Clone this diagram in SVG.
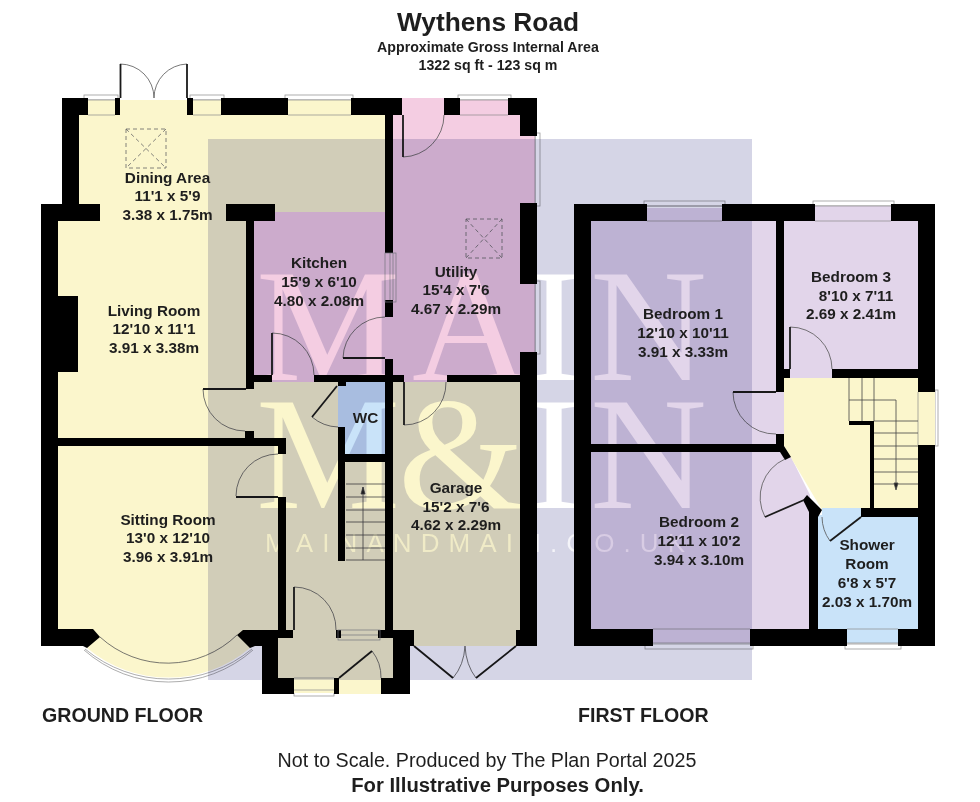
<svg xmlns="http://www.w3.org/2000/svg" width="980" height="802" viewBox="0 0 980 802">
<style>
text{font-family:"Liberation Sans",Arial,sans-serif;fill:#1e1e1e}
.l{font-size:15.300px;font-weight:bold;text-anchor:middle}
.h{font-weight:bold;text-anchor:middle}
.y{fill:#fbf6cc}.p{fill:#f4cde2}.v{fill:#e2d5ea}.b{fill:#c9e3f9}
.w{fill:#000}
.t{fill:none;stroke:#555;stroke-width:.8}
.d{fill:none;stroke:#1a1a1a;stroke-width:1.800}
.s{fill:#fff;stroke:#9a9a9a;stroke-width:.8}
.g{fill:none;stroke:#8a8a8a;stroke-width:.7}
.r{fill:none;stroke:#666;stroke-width:.8;stroke-dasharray:4 3}
.k{fill:none;stroke:#444;stroke-width:.8}
.m{font-family:"Liberation Serif",serif;font-size:162px;fill:#000}
</style>
<defs>
<mask id="wm" maskUnits="userSpaceOnUse" x="0" y="0" width="980" height="802">
<rect width="980" height="802" fill="#fff"/>
<text class="m" x="256 412 527 590" y="380">MAIN</text>
<text class="m" x="256 398 527 590" y="508">M&amp;IN</text>
<text x="265" y="552" font-size="26" textLength="420" lengthAdjust="spacing" style="fill:#000" fill-opacity=".75">MAINANDMAIN.CO.UK</text>
</mask>
</defs>
<rect width="980" height="802" fill="#fff"/>
<g id="sills" class="s">
<rect x="84" y="95" width="34" height="5"/><rect x="190" y="95" width="34" height="5"/><rect x="285" y="95" width="68" height="5"/><rect x="458" y="95" width="53" height="5"/>
<rect x="535" y="133" width="5" height="73"/><rect x="535" y="281" width="5" height="73"/>
<rect x="294" y="690" width="40" height="6"/>
<rect x="644" y="201" width="81" height="5"/><rect x="813" y="201" width="81" height="5"/>
<rect x="935" y="390" width="3" height="56"/><rect x="645" y="644" width="108" height="5"/><rect x="845" y="644" width="56" height="5"/>
</g>
<g id="ground-fills">
<rect class="y" x="79" y="100" width="310" height="125"/>
<rect class="y" x="58" y="221" width="200" height="420"/>
<rect class="y" x="254" y="382" width="134" height="258"/>
<rect class="y" x="278" y="635" width="115" height="45"/>
<rect class="y" x="294" y="678" width="40" height="15"/>
<rect class="y" x="339" y="678" width="42" height="16"/>
<path class="y" d="M87 640V648A127 127 0 0 0 250 648V640Z"/>
<rect class="p" x="254" y="212" width="135" height="170"/>
<rect class="p" x="389" y="100" width="131" height="282"/>
<rect class="p" x="402" y="98" width="42" height="20"/>
<rect class="p" x="460" y="100" width="48" height="18"/>
<rect class="p" x="520" y="136" width="15" height="216"/>
<rect class="y" x="393" y="382" width="127" height="250"/>
<rect class="y" x="414" y="630" width="102" height="16"/>
<rect class="b" x="338" y="382" width="47" height="74"/>
</g>
<g id="first-fills">
<rect class="v" x="591" y="208" width="193" height="238"/>
<rect class="v" x="784" y="206" width="134" height="164"/>
<rect class="v" x="790" y="365" width="42" height="15"/>
<path class="v" d="M591 448H780L791 457L810 495L812 631H591Z"/>
<rect class="v" x="653" y="625" width="97" height="18"/>
<rect class="v" x="776" y="392" width="10" height="42"/>
<path class="y" d="M784 378H918V510H822L784 446Z"/>
<rect class="y" x="918" y="392" width="17" height="53"/>
<rect class="b" x="818" y="515" width="100" height="116"/>
<rect class="b" x="822" y="508" width="39" height="10"/>
<rect class="b" x="847" y="625" width="51" height="18"/>
</g>
<g id="walls-ground" class="w">
<path d="M62 98H88V115H79V204H100V221H58V629H93L100 637L87 648L83 646H41V204H62Z"/>
<rect x="115" y="98" width="5" height="17"/>
<rect x="187" y="98" width="6" height="17"/>
<rect x="221" y="98" width="67" height="17"/>
<rect x="351" y="98" width="51" height="17"/>
<rect x="444" y="98" width="16" height="17"/>
<path d="M508 98H537V136H520V115H508Z"/>
<rect x="520" y="203" width="17" height="81"/>
<rect x="520" y="352" width="17" height="294"/>
<rect x="516" y="630" width="21" height="16"/>
<rect x="385" y="115" width="8" height="138"/>
<rect x="385" y="300" width="8" height="17"/>
<rect x="385" y="359" width="8" height="271"/>
<rect x="314" y="375" width="90" height="7"/>
<rect x="447" y="375" width="73" height="7"/>
<rect x="254" y="375" width="18" height="7"/>
<path d="M226 204H275V221H254V389H246V221H226Z"/>
<rect x="58" y="296" width="20" height="76"/>
<rect x="58" y="438" width="228" height="8"/>
<rect x="245" y="431" width="9" height="8"/>
<rect x="278" y="446" width="8" height="8"/>
<rect x="278" y="497" width="8" height="133"/>
<path d="M243 630H293V638H278V694H262V646H255L250 648L237 635Z"/>
<rect x="262" y="678" width="32" height="16"/>
<rect x="336" y="630" width="5" height="8"/>
<path d="M378 630H414V646H410V694H381V678H393V638H378Z"/>
<rect x="334" y="678" width="5" height="16"/>
<rect x="338" y="382" width="8" height="4"/>
<rect x="338" y="427" width="7" height="134"/>
<rect x="345" y="454" width="40" height="8"/>
</g>
<g id="walls-first" class="w">
<path d="M574 204H647V221H591V629H653V646H574Z"/>
<rect x="722" y="204" width="93" height="17"/>
<path d="M891 204H935V392H918V221H891Z"/>
<path d="M918 445H935V646H898V629H918Z"/>
<rect x="750" y="629" width="97" height="17"/>
<rect x="776" y="221" width="8" height="171"/>
<rect x="591" y="444" width="185" height="8"/>
<path d="M776 434H784V446L791 457L785 460L780 452H776Z"/>
<path d="M807 495L822 510L818 517V629H809V512L803 500Z"/>
<rect x="784" y="369" width="6" height="9"/>
<rect x="832" y="369" width="86" height="9"/>
<rect x="861" y="508" width="57" height="9"/>
<rect x="870" y="421" width="4" height="87"/>
<rect x="849" y="421" width="25" height="4"/>
</g>
<g id="connectors">
<g class="g">
<path d="M88 100H115M88 115H115M193 100H221M193 115H221M288 100H351M288 115H351M460 100H508M460 115H508"/>
<path d="M535 136V203M535 284V352"/>
<path d="M390 253V300M393 253V300"/>
<rect x="385" y="253" width="11" height="49"/>
<rect x="338" y="630" width="42" height="10"/><path d="M341 635H378"/>
<path d="M294 690H334M294 678H334"/>
<path d="M647 206H722M647 221H722M815 206H891M815 221H891"/>
<path d="M918 392V445M653 629H750M653 643H750M847 629H898M847 643H898"/>
<path d="M85 649A131 131 0 0 0 252 649M84 650A127.500 127.500 0 0 0 253 650"/>
</g>
<g class="t">
<path d="M120 64A34 34 0 0 1 154 98M187 64A34 34 0 0 0 154 98"/>
<path d="M403 157A42 42 0 0 0 444 115"/>
<path d="M343 358A42 42 0 0 1 385 317"/>
<path d="M272 333A42 42 0 0 1 314 375"/>
<path d="M203 389A42 42 0 0 0 245 431"/>
<path d="M236 496A42 42 0 0 1 278 454"/>
<path d="M294 587A42 42 0 0 1 336 630"/>
<path d="M312 417A42 42 0 0 0 338 427"/>
<path d="M404 425A42 42 0 0 0 446 382"/>
<path d="M372 651A42 42 0 0 1 381 678"/>
<path d="M733 392A42 42 0 0 0 776 434"/>
<path d="M790 327A42 42 0 0 1 832 369"/>
<path d="M765 517A42 42 0 0 1 785 459"/>
<path d="M830 541A42 42 0 0 1 822 517"/>
<path d="M100 637A100 100 0 0 0 237 635"/>
<path d="M453 678Q464 665 465 646M476 678Q466 665 465 646"/>
</g>
<g class="d">
<path d="M120.500 64V98M187 64V98"/>
<path d="M403 115V157"/>
<path d="M343 358H385"/>
<path d="M272 333V375"/>
<path d="M203 389H246"/>
<path d="M236 497H278"/>
<path d="M294 587V630"/>
<path d="M337 386L312 417"/>
<path d="M404 382V425"/>
<path d="M339 678L372 651"/>
<path d="M414 646L453 678M516 646L476 678"/>
<path d="M733 392H776"/>
<path d="M790 327V369"/>
<path d="M804 500L765 517"/>
<path d="M861 517L830 541"/>
</g>
<g class="k">
<path d="M346 484H385M346 497H385M346 510H385M346 522H385M346 535H385M346 548H385M346 560H385M363 487V560"/>
<path d="M849 378V421M862 378V421M874 378V421M849 400H896V485M874 421H918M874 433H918M874 446H918M874 459H918M874 472H918M874 484H918"/>
<path d="M363 487l-2 7h4zM896 490l-2 -7h4z" fill="#222"/>
</g>
<g class="r">
<rect x="126" y="129" width="40" height="39"/><path d="M126 129L166 168M166 129L126 168"/>
<rect x="466" y="219" width="36" height="39"/><path d="M466 219L502 258M502 219L466 258"/>
</g>
</g>
<rect id="overlay" x="208" y="139" width="544" height="541" fill="#d5d5e6" style="mix-blend-mode:multiply" mask="url(#wm)"/>
<g id="dining"><text class="l" x="167.500" y="183">Dining Area</text><text class="l" x="167.500" y="201">11'1 x 5'9</text><text class="l" x="167.500" y="220">3.38 x 1.75m</text></g>
<g id="living"><text class="l" x="154" y="316">Living Room</text><text class="l" x="154" y="334">12'10 x 11'1</text><text class="l" x="154" y="353">3.91 x 3.38m</text></g>
<g id="kitchen"><text class="l" x="319" y="268">Kitchen</text><text class="l" x="319" y="287">15'9 x 6'10</text><text class="l" x="319" y="306">4.80 x 2.08m</text></g>
<g id="utility"><text class="l" x="456" y="277">Utility</text><text class="l" x="456" y="295">15'4 x 7'6</text><text class="l" x="456" y="314">4.67 x 2.29m</text></g>
<g id="wc"><text class="l" x="365.500" y="423">WC</text></g>
<g id="sitting"><text class="l" x="168" y="525">Sitting Room</text><text class="l" x="168" y="543">13'0 x 12'10</text><text class="l" x="168" y="562">3.96 x 3.91m</text></g>
<g id="garage"><text class="l" x="456" y="493">Garage</text><text class="l" x="456" y="512">15'2 x 7'6</text><text class="l" x="456" y="530">4.62 x 2.29m</text></g>
<g id="bedroom1"><text class="l" x="683" y="319">Bedroom 1</text><text class="l" x="683" y="338">12'10 x 10'11</text><text class="l" x="683" y="357">3.91 x 3.33m</text></g>
<g id="bedroom2"><text class="l" x="699" y="527">Bedroom 2</text><text class="l" x="699" y="546">12'11 x 10'2</text><text class="l" x="699" y="565">3.94 x 3.10m</text></g>
<g id="bedroom3"><text class="l" x="851" y="282">Bedroom 3</text><text class="l" x="856" y="301">8'10 x 7'11</text><text class="l" x="851" y="319">2.69 x 2.41m</text></g>
<g id="shower"><text class="l" x="867" y="550">Shower</text><text class="l" x="867" y="569">Room</text><text class="l" x="867" y="588">6'8 x 5'7</text><text class="l" x="867" y="607">2.03 x 1.70m</text></g>
<g id="headings">
<text class="h" x="488" y="31" font-size="26.300">Wythens Road</text>
<text class="h" x="488" y="52" font-size="14.200">Approximate Gross Internal Area</text>
<text class="h" x="488" y="70" font-size="14.200">1322 sq ft - 123 sq m</text>
<text x="42" y="722" font-size="19.600" font-weight="bold">GROUND FLOOR</text>
<text x="578" y="722" font-size="19.600" font-weight="bold">FIRST FLOOR</text>
<text x="487" y="767" font-size="19.700" text-anchor="middle">Not to Scale. Produced by The Plan Portal 2025</text>
<text class="h" x="497.500" y="792" font-size="20.300">For Illustrative Purposes Only.</text>
</g>
</svg>
